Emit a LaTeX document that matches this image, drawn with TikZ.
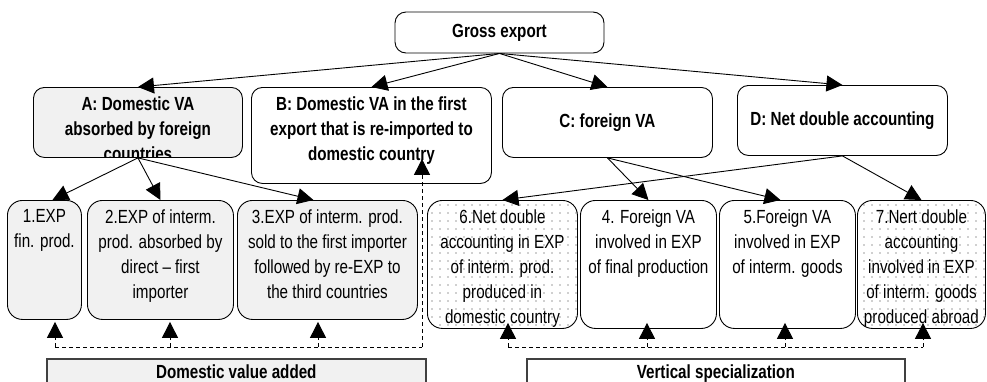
\documentclass[tikz,border=0pt]{standalone}
\usepackage{fontspec}
\setmainfont{Liberation Sans}[FakeStretch=0.8]
\usetikzlibrary{arrows.meta,patterns.meta}
\newcommand{\cellfont}{\fontsize{19}{25}\selectfont}
\definecolor{cellgray}{HTML}{F1F1F1}
\definecolor{framegray}{HTML}{404040}
\tikzstyle{topbox} = [draw, rounded corners=11pt, inner sep=0pt, line width=0.9pt,
    font=\cellfont\bfseries, align=center]
\tikzstyle{cell} = [draw, rounded corners=15pt, inner sep=0pt, line width=0.9pt,
    anchor=north west]
\tikzstyle{dotcell} = [cell, pattern={Dots[distance=8pt, radius=0.8pt]}, pattern color=gray!75]
\tikzstyle{groupbox} = [draw=framegray, line width=1.6pt, inner sep=0pt, anchor=north west]
\tikzstyle{connector} = [-{Triangle[length=16pt,width=16pt]}, line width=0.9pt]
\tikzstyle{bus} = [line width=1pt, dash pattern=on 4pt off 3pt]
\tikzstyle{dlink} = [connector, bus]
\tikzset{intext/.style 2 args={path picture={\node[draw=none, fill=none, minimum width=0pt,
    minimum height=0pt, anchor=north, inner sep=0pt, align=center, font=\cellfont,
    yshift=-9pt, #1] at (path picture bounding box.north) {#2};}}}

\begin{document}
\begin{tikzpicture}[x=1pt, y=-1pt]
    \path[use as bounding box, clip] (0,0) rectangle (987,381);

    \node[topbox, minimum width=209pt, minimum height=41pt] (gross) at (499.5,32.5) {Gross export};

    \node[topbox, fill=cellgray, anchor=north west, minimum width=209pt, minimum height=70pt,
        intext={font=\cellfont\bfseries}{A: Domestic VA\\absorbed by foreign\\countries}] (A) at (33,87) {};
    \node[topbox, anchor=north west, minimum width=240pt, minimum height=96pt,
        intext={font=\cellfont\bfseries}{B: Domestic VA in the first\\export that is re-imported to\\domestic country}] (B) at (251,87) {};
    \node[topbox, anchor=north west, minimum width=210pt, minimum height=70pt] (C) at (502,87) {C: foreign VA};
    \node[topbox, anchor=north west, minimum width=210pt, minimum height=70pt] (D) at (737,85) {D: Net double accounting};

    % domestic value added
    \node[cell, fill=cellgray, minimum width=74pt, minimum height=119pt,
        intext={}{1.EXP\\fin. prod.}] (e1) at (7,200) {};
    \node[cell, fill=cellgray, minimum width=146pt, minimum height=119pt,
        intext={}{2.EXP of interm.\\prod. absorbed by\\direct -- first\\importer}] (e2) at (87,200) {};
    \node[cell, fill=cellgray, minimum width=180pt, minimum height=119pt,
        intext={}{3.EXP of interm. prod.\\sold to the first importer\\followed by re-EXP to\\the third countries}] (e3) at (237,200) {};

    % vertical specialization
    \node[dotcell, minimum width=150pt, minimum height=128pt,
        intext={}{6.Net double\\accounting in EXP\\of interm. prod.\\produced in\\domestic country}] (e6) at (427,200) {};
    \node[cell, minimum width=136pt, minimum height=128pt,
        intext={}{4. Foreign VA\\involved in EXP\\of final production}] (e4) at (580,200) {};
    \node[cell, minimum width=136pt, minimum height=128pt,
        intext={}{5.Foreign VA\\involved in EXP\\of interm. goods}] (e5) at (719,200) {};
    \node[dotcell, minimum width=128pt, minimum height=128pt,
        intext={}{7.Nert double\\accounting\\involved in EXP\\of interm. goods\\produced abroad}] (e7) at (857,200) {};

    \node[groupbox, fill=cellgray, minimum width=379pt, minimum height=40pt,
        intext={font=\cellfont\bfseries, yshift=4pt}{Domestic value added}] (dva) at (46,358) {};
    \node[groupbox, fill=white, minimum width=378pt, minimum height=40pt,
        intext={font=\cellfont\bfseries, yshift=4pt}{Vertical specialization}] (vspec) at (526,358) {};

    \foreach \t in {A,B,C,D}
        \draw[connector] (gross.south) -- (\t.north);
    \draw[connector] (A.south) -- ([xshift=8pt]e1.north);
    \draw[connector] (A.south) -- (e2.north);
    \draw[connector] (A.south) -- ([xshift=-14pt]e3.north);
    \draw[connector] (C.south) -- (e4.north);
    \draw[connector] (C.south) -- ([xshift=-7pt]e5.north);
    \draw[connector] (D.south) -- (e6.north);
    \draw[connector] (D.south) -- (e7.north);

    \coordinate (dv1) at (55,347);
    \coordinate (dv2) at (170,347);
    \coordinate (dv3) at (318,347);
    \coordinate (dv4) at (422,347);
    \coordinate (vs1) at (508,347);
    \coordinate (vs2) at (647,347);
    \coordinate (vs3) at (785,347);
    \coordinate (vs4) at (923,347);

    \draw[bus] (dv1) -- (dv4);
    \foreach \d/\e in {dv1/e1, dv2/e2, dv3/e3}
        \draw[dlink, shorten >=2pt] (\d) -- (\d |- \e.south);
    \draw[dlink, shorten >=-25pt] (dv4) -- (dv4 |- B.south);

    \draw[bus] (vs1) -- (vs4);
    \foreach \d/\e in {vs1/e6, vs2/e4, vs3/e5, vs4/e7}
        \draw[dlink, shorten >=-6pt] (\d) -- (\d |- \e.south);
\end{tikzpicture}
\end{document}
